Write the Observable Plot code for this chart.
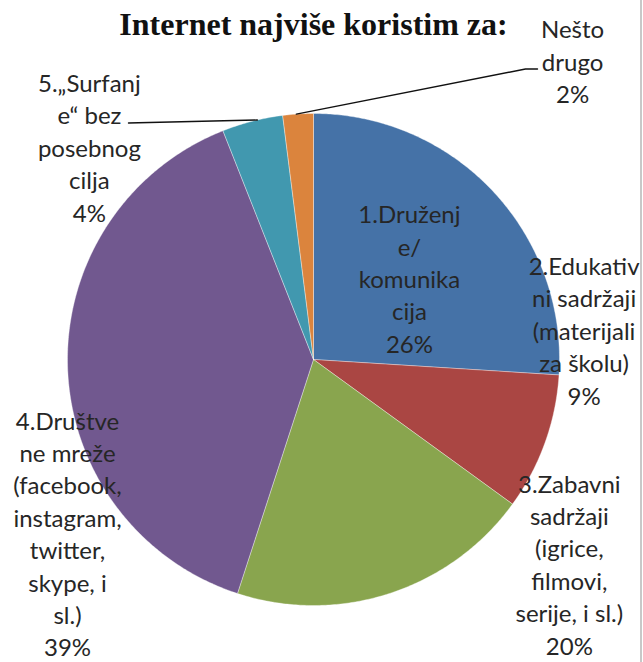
<!DOCTYPE html>
<html><head><meta charset="utf-8">
<script src="https://cdn.jsdelivr.net/npm/d3@7"></script>
<script src="https://cdn.jsdelivr.net/npm/@observablehq/plot@0.6"></script>
<style>
body{margin:0;background:#fff}
#wrap{position:relative;width:643px;height:662px}
#edge{position:absolute;left:640px;top:0;width:1.5px;height:662px;background:#c8c8c8}
</style>
</head><body><div id="wrap"><div id="chart"></div><div id="edge"></div></div>
<script>
// ---- data ----
const title = "Internet najviše koristim za:";
const categories = [
  "1.Druženje/ komunikacija",
  "2.Edukativni sadržaji (materijali za školu)",
  "3.Zabavni sadržaji (igrice, filmovi, serije, i sl.)",
  "4.Društvene mreže (facebook, instagram, twitter, skype, i sl.)",
  "5.„Surfanje“ bez posebnog cilja",
  "Nešto drugo"
];
const values = [26, 9, 20, 39, 4, 2];
const labelLines = [
  ["1.Druženj", "e/", "komunika", "cija"],
  ["2.Edukativ", "ni sadržaji", "(materijali", "za školu)"],
  ["3.Zabavni", "sadržaji", "(igrice,", "filmovi,", "serije, i sl.)"],
  ["4.Društve", "ne mreže", "(facebook,", "instagram,", "twitter,", "skype, i", "sl.)"],
  ["5.„Surfanj", "e“ bez", "posebnog", "cilja"],
  ["Nešto", "drugo"]
];
const colors = ["#4572A7", "#AA4643", "#89A54E", "#71588F", "#4198AF", "#DB843D"];

// ---- layout (in radius units, relative to pie centre) ----
const W = 643, H = 662, R = 246, CX = 313, CY = 359;
const labelPos = [
  [0.390, -0.333], [1.100, -0.122], [1.040, 0.828],
  [-1.0, 0.704], [-0.911, -0.866], [1.053, -1.216]
];
// leader lines: angle on arc (deg, clockwise from top), bend point, end point (px offsets)
const leaders = [
  {i: 5, ang: 356.0, bend: [525 - CX, 68.5 - CY], end: [537 - CX, 68.5 - CY]},
  {i: 4, ang: 346.8, bend: [138 - CX, 122.3 - CY], end: [128 - CX, 122.5 - CY]}
];

// ---- geometry from values ----
const total = d3.sum(values);
let acc = 0;
const slices = values.map((v, i) => {
  const a0 = acc / total * 360; acc += v; const a1 = acc / total * 360;
  return {i, cat: categories[i], a0, a1};
});
const pts = [];
for (const s of slices) {
  pts.push({cat: s.cat, x: 0, y: 0});
  const n = Math.max(2, Math.ceil((s.a1 - s.a0) / 0.5));
  for (let k = 0; k <= n; k++) {
    const a = (s.a0 + (s.a1 - s.a0) * k / n) * Math.PI / 180;
    pts.push({cat: s.cat, x: Math.sin(a), y: -Math.cos(a)});
  }
  pts.push({cat: s.cat, x: 0, y: 0});
}
const labels = categories.map((c, i) => ({
  x: labelPos[i][0], y: labelPos[i][1],
  text: labelLines[i].join("\n") + "\n" + values[i] + "%"
}));
const leaderPts = [];
leaders.forEach((l, j) => {
  const a = l.ang * Math.PI / 180;
  leaderPts.push({g: j, x: Math.sin(a), y: -Math.cos(a)});
  leaderPts.push({g: j, x: l.bend[0] / R, y: l.bend[1] / R});
  leaderPts.push({g: j, x: l.end[0] / R, y: l.end[1] / R});
});

const chart = Plot.plot({
  width: W, height: H,
  margin: 0,
  style: {background: "#fff", overflow: "visible"},
  x: {domain: [-CX / R, (W - CX) / R], range: [0, W], axis: null},
  y: {domain: [-CY / R, (H - CY) / R], range: [0, H], axis: null},
  color: {domain: categories, range: colors},
  marks: [
    Plot.line(pts, {x: "x", y: "y", z: "cat", fill: "cat", stroke: "#ffffff", strokeWidth: 0.6, strokeOpacity: 0.6, curve: "linear-closed"}),
    Plot.line(leaderPts, {x: "x", y: "y", z: "g", stroke: "#111", strokeWidth: 1.4}),
    Plot.text(labels, {x: "x", y: "y", text: "text", lineAnchor: "middle", lineHeight: 1.35,
      fontFamily: "Lato", fontSize: 24, fill: "#262626", textAnchor: "middle"}),
    Plot.text([title], {x: () => 0, y: () => (34 - CY) / R, text: d => d, lineAnchor: "bottom",
      fontFamily: "Liberation Serif", fontWeight: "bold", fontSize: 32, fill: "#111", textAnchor: "middle"})
  ]
});
document.getElementById("chart").appendChild(chart);
</script>
</body></html>
